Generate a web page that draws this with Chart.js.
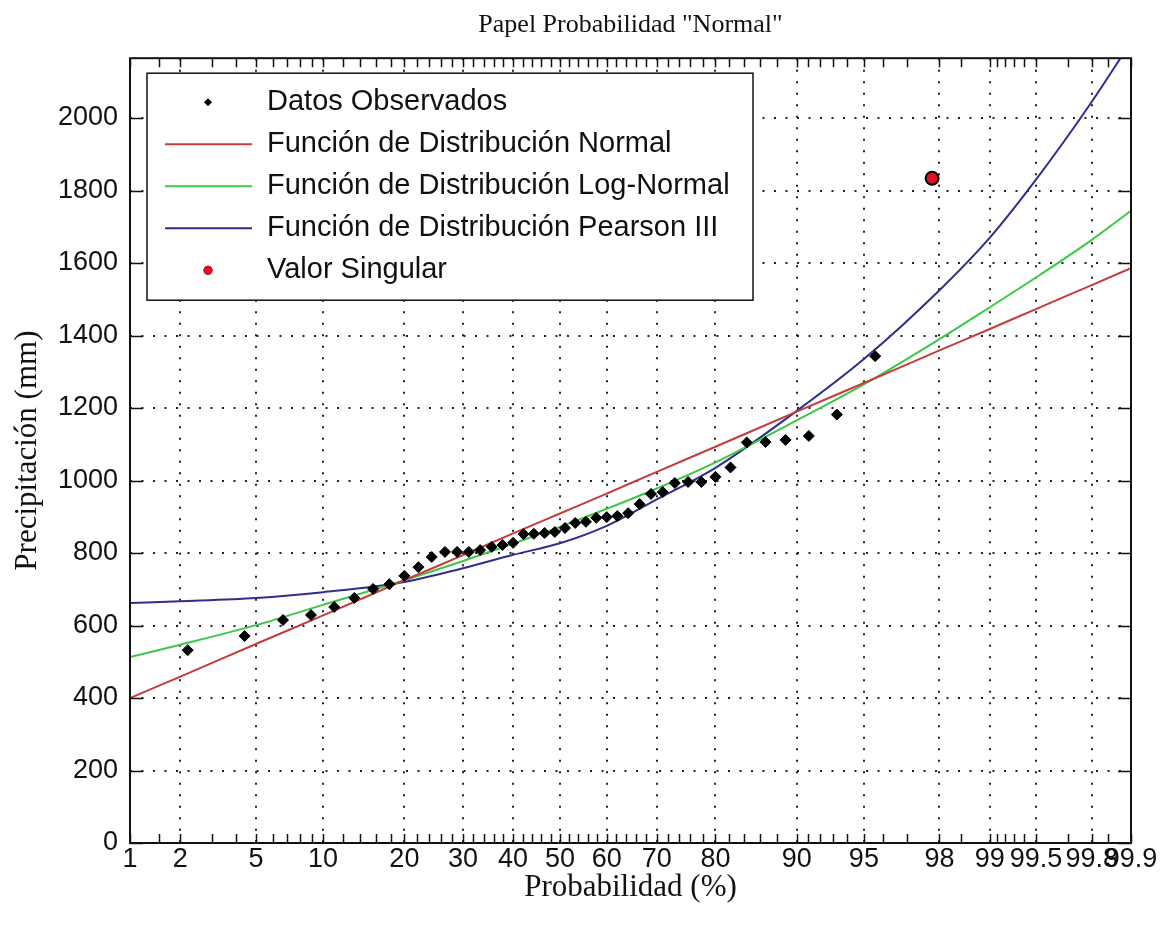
<!DOCTYPE html>
<html>
<head>
<meta charset="utf-8">
<script src="https://cdn.jsdelivr.net/npm/chart.js@4.4.1/dist/chart.umd.min.js"></script>
<style>
  body { margin: 0; background: #fff; }
  #chart { display: block; }
</style>
</head>
<body>
<canvas id="chart" width="1169" height="928"></canvas>
<script>
// probability axis (%), labelled ticks and the small unlabelled ones
const probTicks = [1, 2, 5, 10, 20, 30, 40, 50, 60, 70, 80, 90, 95, 98, 99, 99.5, 99.8, 99.9];
const minorTicks = [1.5, 3, 4, 6, 7, 8, 9, 12, 14, 16, 18, 22, 24, 26, 28, 32, 34, 36, 38,
  42, 44, 46, 48, 52, 54, 56, 58, 62, 64, 66, 68, 72, 74, 76, 78, 82, 84, 86, 88,
  91, 92, 93, 94, 96, 97, 98.5, 99.1, 99.2, 99.3, 99.4, 99.7, 99.85];

// precipitation axis (mm)
const yTicks = [0, 200, 400, 600, 800, 1000, 1200, 1400, 1600, 1800, 2000];
const yTop = 2165;

// observed data (plotting position %, precipitation mm)
const obsProb = [2.2, 4.4, 6.7, 8.9, 11.1, 13.3, 15.6, 17.8, 20.0, 22.2, 24.4, 26.7, 28.9, 31.1,
  33.3, 35.6, 37.8, 40.0, 42.2, 44.4, 46.7, 48.9, 51.1, 53.3, 55.6, 57.8, 60.0, 62.2, 64.4,
  66.7, 68.9, 71.1, 73.3, 75.6, 77.8, 80.0, 82.2, 84.4, 86.7, 88.9, 91.1, 93.3, 95.6];
const obsValues = [532, 571, 615, 629, 651, 676, 701, 714, 737, 761, 789, 803, 803, 803,
  808, 817, 822, 828, 852, 853, 855, 858, 869, 883, 886, 897, 899, 902, 910,
  935, 963, 968, 993, 996, 996, 1010, 1036, 1105, 1106, 1112, 1123, 1182, 1343];

// outlier
const singularProb = [97.8];
const singularValues = [1834];

// fitted distributions read at the axis probabilities
const curveProb = [1, 2, 5, 10, 20, 30, 40, 50, 60, 70, 80, 90, 95, 98, 99, 99.5, 99.8, 99.9];
const normalValues = [400, 459, 549, 628, 725, 794, 854, 909, 964, 1024, 1093, 1190, 1269, 1359, 1418, 1473, 1539, 1586];
const logNormalValues = [513, 547, 601, 657, 725, 778, 826, 872, 922, 978, 1050, 1166, 1265, 1390, 1478, 1560, 1664, 1744];
const pearsonValues = [662, 667, 676, 692, 720, 758, 795, 827, 875, 948, 1035, 1192, 1335, 1525, 1670, 1830, 2045, 2210];

// inverse of the standard normal cdf (Acklam)
function probit(p) {
  const a = [-39.69683028665376, 220.9460984245205, -275.9285104469687, 138.3577518672690, -30.66479806614716, 2.506628277459239];
  const b = [-54.47609879822406, 161.5858368580409, -155.6989798598866, 66.80131188771972, -13.28068155288572];
  const c = [-0.007784894002430293, -0.3223964580411365, -2.400758277161838, -2.549671348602843, 4.374664141464968, 2.938163982698783];
  const d = [0.007784695709041462, 0.3224671290700398, 2.445134137142996, 3.754408661907416];
  const plow = 0.02425;
  let q, r;
  if (p < plow) {
    q = Math.sqrt(-2 * Math.log(p));
    return (((((c[0] * q + c[1]) * q + c[2]) * q + c[3]) * q + c[4]) * q + c[5]) /
      ((((d[0] * q + d[1]) * q + d[2]) * q + d[3]) * q + 1);
  }
  if (p <= 1 - plow) {
    q = p - 0.5; r = q * q;
    return (((((a[0] * r + a[1]) * r + a[2]) * r + a[3]) * r + a[4]) * r + a[5]) * q /
      (((((b[0] * r + b[1]) * r + b[2]) * r + b[3]) * r + b[4]) * r + 1);
  }
  q = Math.sqrt(-2 * Math.log(1 - p));
  return -(((((c[0] * q + c[1]) * q + c[2]) * q + c[3]) * q + c[4]) * q + c[5]) /
    ((((d[0] * q + d[1]) * q + d[2]) * q + d[3]) * q + 1);
}

function normCdf(z) {
  const t = 1 / (1 + 0.2316419 * Math.abs(z));
  const k = t * (0.319381530 + t * (-0.356563782 + t * (1.781477937 + t * (-1.821255978 + t * 1.330274429))));
  const v = 1 - Math.exp(-z * z / 2) / Math.sqrt(2 * Math.PI) * k;
  return z >= 0 ? v : 1 - v;
}

// normal probability paper scale
class ProbitScale extends Chart.Scale {
  determineDataLimits() {
    this.min = this.options.min;
    this.max = this.options.max;
  }
  buildTicks() {
    return probTicks.map(v => ({ value: v }));
  }
  getLabelForValue(v) {
    return v + ' %';
  }
  configure() {
    super.configure();
    this._z0 = probit(this.min / 100);
    this._zr = probit(this.max / 100) - this._z0;
  }
  getPixelForValue(v) {
    return this.getPixelForDecimal((probit(v / 100) - this._z0) / this._zr);
  }
  getValueForPixel(px) {
    return 100 * normCdf(this._z0 + this.getDecimalForPixel(px) * this._zr);
  }
}
ProbitScale.id = 'probit';
ProbitScale.defaults = {};
Chart.register(ProbitScale);

const toPoints = (xs, ys) => xs.map((x, i) => ({ x: x, y: ys[i] }));

// inward ticks + box around the plot
const frameTicks = {
  id: 'frameTicks',
  afterDraw(chart) {
    const ctx = chart.ctx;
    const { left, right, top, bottom } = chart.chartArea;
    const xs = chart.scales.x, ys = chart.scales.y;
    ctx.save();
    ctx.strokeStyle = '#111';
    ctx.lineWidth = 1.5;
    ctx.beginPath();
    probTicks.concat(minorTicks).forEach(p => {
      const px = Math.round(xs.getPixelForValue(p)) + 0.5;
      ctx.moveTo(px, bottom); ctx.lineTo(px, bottom - 9);
      ctx.moveTo(px, top); ctx.lineTo(px, top + 9);
    });
    ys.ticks.forEach(t => {
      const py = Math.round(ys.getPixelForValue(t.value)) + 0.5;
      ctx.moveTo(left, py); ctx.lineTo(left + 13, py);
      ctx.moveTo(right, py); ctx.lineTo(right - 13, py);
    });
    ctx.stroke();
    ctx.lineWidth = 2;
    ctx.strokeRect(left, top, right - left, bottom - top);
    ctx.restore();
  }
};

// boxed legend in the upper left corner
const boxLegend = {
  id: 'boxLegend',
  afterDraw(chart) {
    const ctx = chart.ctx;
    const { left, top } = chart.chartArea;
    const bx = left + 17, by = top + 15, bw = 606, bh = 227;
    ctx.save();
    ctx.fillStyle = '#fff';
    ctx.fillRect(bx, by, bw, bh);
    ctx.strokeStyle = '#111';
    ctx.lineWidth = 1.5;
    ctx.strokeRect(bx, by, bw, bh);
    ctx.font = '29px "Liberation Sans", Arial, sans-serif';
    ctx.textBaseline = 'middle';
    chart.data.datasets.forEach((ds, i) => {
      const y = by + 29 + i * 42;
      if (ds.showLine) {
        ctx.strokeStyle = ds.borderColor;
        ctx.lineWidth = 2;
        ctx.beginPath();
        ctx.moveTo(bx + 18, y); ctx.lineTo(bx + 105, y);
        ctx.stroke();
      } else {
        Chart.helpers.drawPoint(ctx, {
          pointStyle: ds.pointStyle, radius: ds.pointStyle === 'circle' ? 4.5 : 4,
          borderWidth: 0, rotation: 0
        }, bx + 61, y);
        ctx.fillStyle = ds.backgroundColor;
        ctx.fill();
      }
      ctx.fillStyle = '#111';
      ctx.fillText(ds.label, bx + 120, y);
    });
    ctx.restore();
  }
};

const tickFont = { family: '"Liberation Sans", Arial, sans-serif', size: 27 };
const serif = '"Liberation Serif", "Times New Roman", serif';

new Chart(document.getElementById('chart'), {
  type: 'scatter',
  data: {
    datasets: [
      {
        label: 'Datos Observados',
        data: toPoints(obsProb, obsValues),
        pointStyle: 'rectRot', pointRadius: 5.5,
        backgroundColor: '#000', borderColor: '#000', borderWidth: 1,
        showLine: false
      },
      {
        label: 'Función de Distribución Normal',
        data: toPoints(curveProb, normalValues),
        borderColor: '#c43c3c', borderWidth: 2, pointRadius: 0,
        showLine: true, cubicInterpolationMode: 'monotone'
      },
      {
        label: 'Función de Distribución Log-Normal',
        data: toPoints(curveProb, logNormalValues),
        borderColor: '#3cc846', borderWidth: 2, pointRadius: 0,
        showLine: true, cubicInterpolationMode: 'monotone'
      },
      {
        label: 'Función de Distribución Pearson III',
        data: toPoints(curveProb, pearsonValues),
        borderColor: '#2e2e8c', borderWidth: 2, pointRadius: 0,
        showLine: true, cubicInterpolationMode: 'monotone'
      },
      {
        label: 'Valor Singular',
        data: toPoints(singularProb, singularValues),
        pointStyle: 'circle', pointRadius: 6.5,
        backgroundColor: '#e01020', borderColor: '#000', borderWidth: 2,
        showLine: false
      }
    ]
  },
  options: {
    responsive: false,
    animation: false,
    events: [],
    layout: { padding: { left: 0, right: 38, top: 0, bottom: 0 } },
    plugins: {
      legend: { display: false },
      tooltip: { enabled: false },
      title: {
        display: true,
        fullSize: false,
        text: 'Papel Probabilidad "Normal"',
        color: '#111',
        font: { family: serif, size: 26, weight: 'normal' },
        padding: { top: 10, bottom: 17 }
      }
    },
    scales: {
      x: {
        type: 'probit',
        position: 'bottom',
        min: 1,
        max: 99.9,
        afterFit(scale) { scale.height = 85; },
        grid: { color: '#222', lineWidth: 2, drawTicks: false },
        border: { display: false, dash: [2, 9.5] },
        ticks: {
          autoSkip: false, maxRotation: 0, minRotation: 0, padding: 0,
          color: '#111', font: tickFont,
          callback: (v) => String(v)
        },
        title: {
          display: true, text: 'Probabilidad (%)', color: '#111',
          font: { family: serif, size: 31 },
          padding: { top: 0, bottom: 22 }
        }
      },
      y: {
        min: 0,
        max: yTop,
        afterBuildTicks(scale) { scale.ticks = yTicks.map(v => ({ value: v })); },
        afterFit(scale) { scale.width = 130; },
        grid: { color: '#222', lineWidth: 2, drawTicks: false },
        border: { display: false, dash: [2, 9.5] },
        ticks: {
          padding: 12, color: '#111', font: tickFont,
          callback: (v) => String(v)
        },
        title: {
          display: true, text: 'Precipitación (mm)', color: '#111',
          font: { family: serif, size: 31 },
          padding: { top: 9, bottom: 0 }
        }
      }
    }
  },
  plugins: [frameTicks, boxLegend]
});
</script>
</body>
</html>
